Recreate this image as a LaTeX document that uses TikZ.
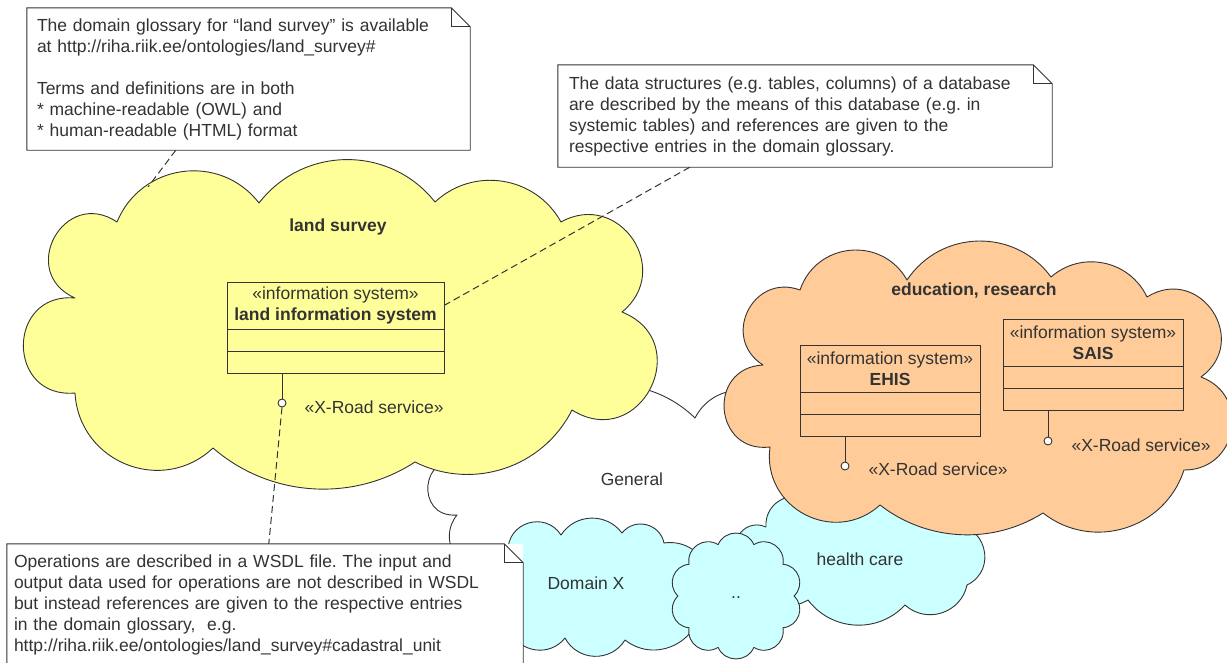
\documentclass[tikz,border=0pt]{standalone}
\usepackage{fontspec}
\setmainfont{Liberation Sans}
\usetikzlibrary{positioning}
\frenchspacing

\definecolor{surveyyellow}{RGB}{255,255,153}
\definecolor{eduorange}{RGB}{255,204,153}
\definecolor{domaincyan}{RGB}{204,255,255}
\definecolor{inkgray}{RGB}{51,51,51}

\begin{document}
\begin{tikzpicture}%
    [x=1pt, y=-1pt,
    every node/.style={font=\fontsize{17.5}{21}\selectfont, text=inkgray},
    puffline/.style={draw=inkgray, line width=0.9pt, line join=round},
    lobe/.code={\pgfmathsetmacro\lobeloose{1.703/(1+cos(#1))}\tikzset{bend left=#1, looseness=\lobeloose}},
    note/.style={fill=white, inner sep=0pt, align=left},
    noteline/.style={draw=inkgray, line width=0.9pt},
    classhead/.style={draw=inkgray, line width=1pt, inner sep=0pt, outer sep=0pt, minimum height=47pt, align=center},
    classrow/.style={draw=inkgray, line width=1pt, inner sep=0pt, outer sep=0pt, minimum height=22pt},
    port/.style={circle, draw=inkgray, fill=white, line width=0.9pt, minimum size=8pt, inner sep=0pt},
    stem/.style={draw=inkgray, line width=1pt},
    link/.style={draw=inkgray, line width=1pt, dash pattern=on 7pt off 4pt}]

    \useasboundingbox (0,0) rectangle (1227,662);

    % clouds, back to front
    \path[puffline, fill=white] (462,462) to[lobe=60] (530,420) to[lobe=45] (695,418)
      to[lobe=70] (790,430) to[lobe=60] (810,520) to[lobe=30] (620,600)
      to[lobe=40] (490,570) to[lobe=70] (457,515) to[lobe=100] (462,462) -- cycle;

    \path[puffline, fill=surveyyellow] (75,298) to[lobe=95] (117,222) to[lobe=60] (259,203)
      to[lobe=52] (435,202) to[lobe=52] (561,222) to[lobe=85] (622,312)
      to[lobe=95] (572,410) to[lobe=45] (415,462) to[lobe=37] (213,448)
      to[lobe=65] (75,393) to[lobe=95] (75,298) -- cycle;

    \path[puffline, fill=domaincyan] (745,565) to[lobe=85] (766,527) to[lobe=70] (815,505)
      to[lobe=45] (950,525) to[lobe=80] (967,585) to[lobe=60] (905,605)
      to[lobe=50] (808,600) to[lobe=60] (745,565) -- cycle;

    \path[puffline, fill=eduorange] (763,365) to[lobe=84] (800,290) to[lobe=66] (907,280)
      to[lobe=55] (1051,277) to[lobe=53] (1147,297) to[lobe=88] (1201,377)
      to[lobe=80] (1184,470) to[lobe=55] (1043,513) to[lobe=35] (880,505)
      to[lobe=70] (770,447) to[lobe=92] (763,365) -- cycle;

    \path[puffline, fill=domaincyan] (508,552) to[lobe=75] (561,535) to[lobe=55] (622,533)
      to[lobe=65] (664,543) to[lobe=70] (700,610) to[lobe=60] (625,640)
      to[lobe=60] (565,638) to[lobe=60] (510,630) to[lobe=60] (508,552) -- cycle;

    \path[puffline, fill=domaincyan] (794,596)
      \foreach \a in {36,72,...,324} {to[lobe=66] ({736+58*cos(\a)},{596+54*sin(\a)})}
      to[lobe=66] (794,596) -- cycle;

    % cloud names
    \node[font=\fontsize{17.5}{21}\selectfont\bfseries] (survey) at (338,227) {land survey};
    \node[font=\fontsize{17.5}{21}\selectfont\bfseries] (education) at (974,291) {education, research};
    \node (general) at (632,479) {General};
    \node (domainx) at (586,583) {Domain X};
    \node (other) at (736,598) {..};
    \node (health) at (860,559) {health care};

    % information systems
    \node[classhead, minimum width=217pt] (lis) at (335.5,305.5) {«information system»\\\textbf{land information system}};
    \node[classrow, minimum width=217pt, below=0pt of lis] (lis1) {};
    \node[classrow, minimum width=217pt, below=0pt of lis1] (lis2) {};

    \node[classhead, minimum width=180pt] (ehis) at (890,368.5) {«information system»\\\textbf{EHIS}};
    \node[classrow, minimum width=180pt, below=0pt of ehis] (ehis1) {};
    \node[classrow, minimum width=180pt, below=0pt of ehis1] (ehis2) {};

    \node[classhead, minimum width=180pt] (sais) at (1093,342.5) {«information system»\\\textbf{SAIS}};
    \node[classrow, minimum width=180pt, below=0pt of sais] (sais1) {};
    \node[classrow, minimum width=180pt, below=0pt of sais1] (sais2) {};

    % X-Road services
    \node[port] (lisport) at (282,403) {};
    \node[port] (ehisport) at (845,466) {};
    \node[port] (saisport) at (1048,441) {};
    \draw[stem] (lisport) -- (lisport |- lis2.south);
    \draw[stem] (ehisport) -- (ehisport |- ehis2.south);
    \draw[stem] (saisport) -- (saisport |- sais2.south);
    \node[anchor=west] (lisxr) at (301,407) {«X-Road service»};
    \node[anchor=west] (ehisxr) at (865,469) {«X-Road service»};
    \node[anchor=west] (saisxr) at (1068,445) {«X-Road service»};

    % notes
    \node[note, minimum width=443pt, minimum height=142pt, text width=423pt] (glossary) at (248.5,79)
      {The domain glossary for “land survey” is available\\
       at http://riha.riik.ee/ontologies/land\_survey\#\\[21pt]
       Terms and definitions are in both\\{}
       * machine-readable (OWL) and\\{}
       * human-readable (HTML) format};
    \node[note, minimum width=494pt, minimum height=102pt, text width=472pt] (datanote) at (805,116)
      {The data structures (e.g. tables, columns) of a database\\
       are described by the means of this database (e.g. in\\
       systemic tables) and references are given to the\\
       respective entries in the domain glossary.};
    \node[note, minimum width=516pt, minimum height=122pt, text width=502pt] (wsdlnote) at (265,605)
      {Operations are described in a WSDL file. The input and\\
       output data used for operations are not described in WSDL\\
       but instead references are given to the respective entries\\
       in the domain glossary,\ \ e.g.\\
       http://riha.riik.ee/ontologies/land\_survey\#cadastral\_unit};

    \foreach \n in {glossary, datanote, wsdlnote} {
      \draw[noteline] (\n.north west) -- ([xshift=-19pt]\n.north east) -- ([yshift=-19pt]\n.north east)
        -- (\n.south east) -- (\n.south west) -- cycle;
      \draw[noteline] ([xshift=-19pt]\n.north east) -- ([xshift=-19pt, yshift=-19pt]\n.north east)
        -- ([yshift=-19pt]\n.north east);
    }

    % note links
    \coordinate (surveyedge) at (148,187);
    \draw[link] ([xshift=149pt]glossary.south west) -- (surveyedge);
    \draw[link] ([xshift=132pt]datanote.south west) -- (lis.east);
    \draw[link] (lisport.south) -- ([xshift=262pt]wsdlnote.north west);
\end{tikzpicture}
\end{document}
